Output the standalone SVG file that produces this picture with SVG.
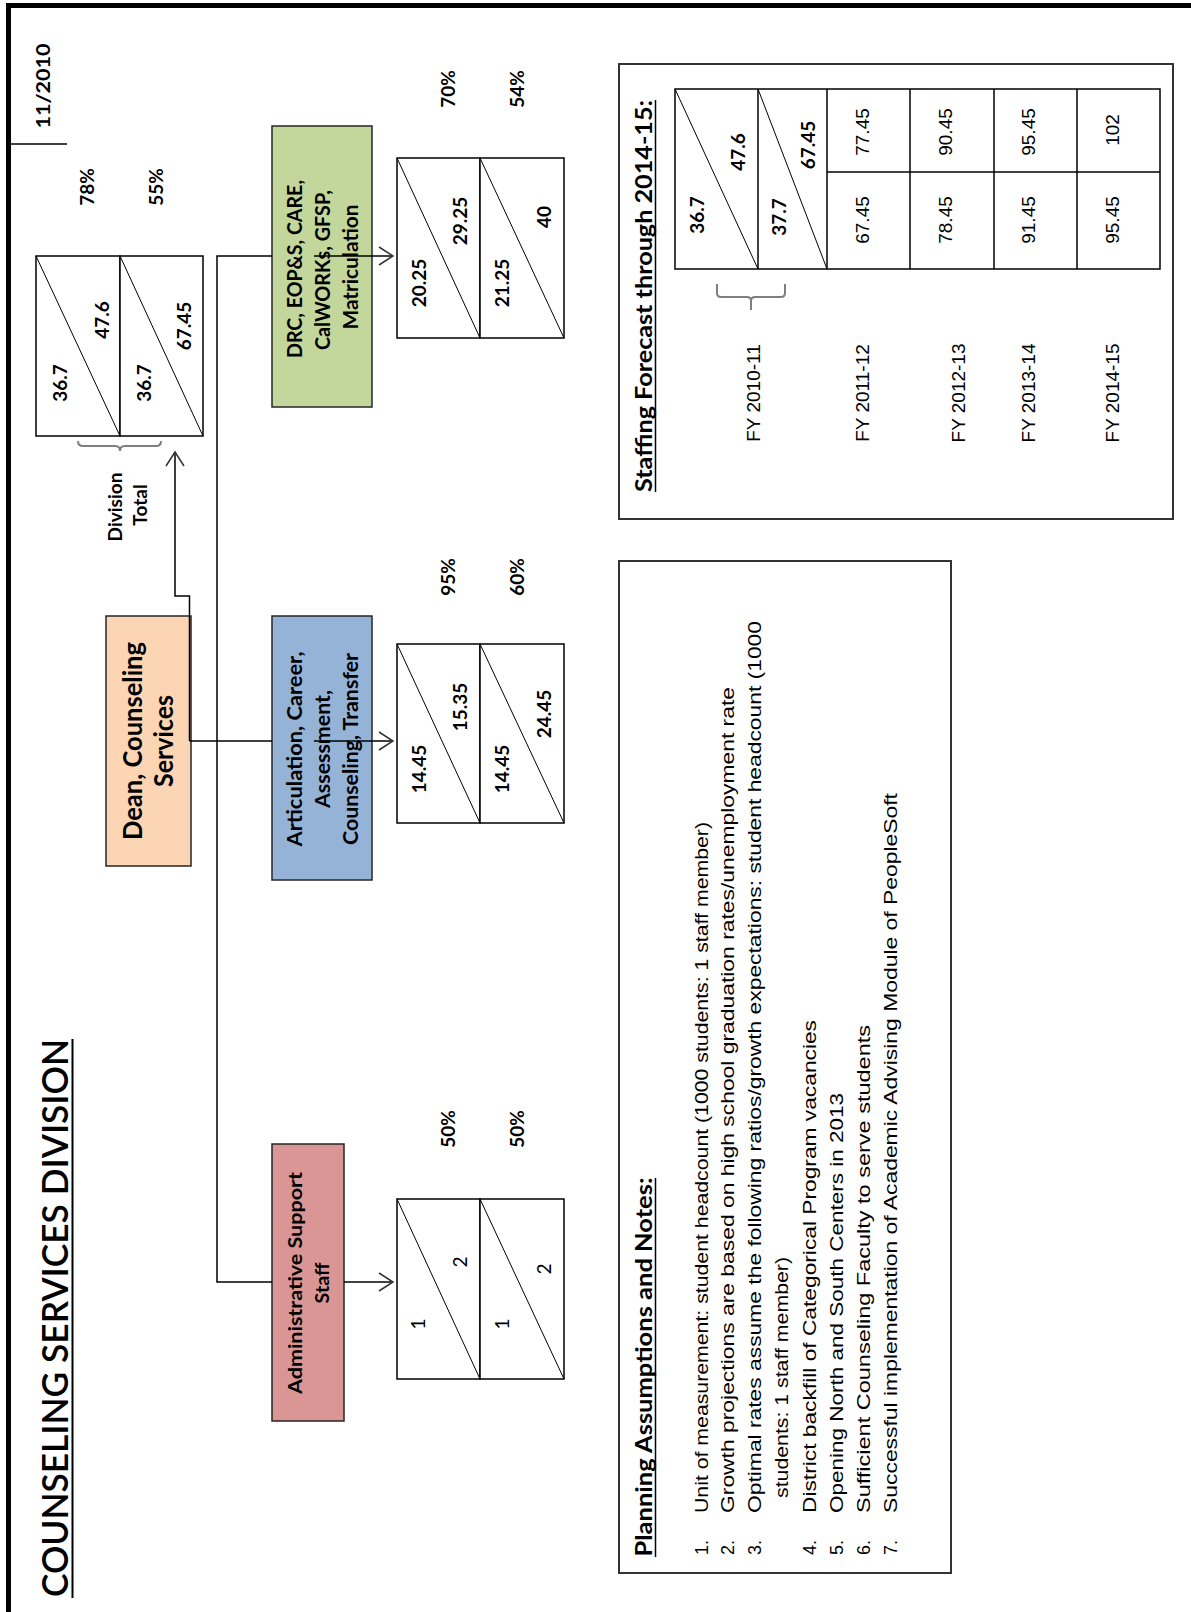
<svg xmlns="http://www.w3.org/2000/svg" width="1191" height="1612" viewBox="0 0 1191 1612">
  <style>
    .bar{fill:#000}
    .cell{fill:#fff;stroke:#000;stroke-width:1.5}
    .diag{stroke:#000;stroke-width:1;fill:none}
    .node{stroke:#262626;stroke-width:1.5}
    .panel{fill:#fff;stroke:#333;stroke-width:2}
    .conn{fill:none;stroke:#000;stroke-width:1.5}
    .brace{fill:none;stroke:#7f7f7f;stroke-width:2}
    .ul{stroke:#000;stroke-width:1.5}
    .b{font-family:Lato,"Liberation Sans",sans-serif;font-weight:700;fill:#000}
    .t{font-family:Lato,"Liberation Sans",sans-serif;font-weight:400;fill:#000}
    .r{font-family:"Liberation Sans",Arial,sans-serif;font-weight:400;fill:#000}
    .num{font-size:19px}
    .pct{font-size:19px}
    .lbl{font-size:21px}
    .note{font-size:18px}
  </style>
  <defs>
    <marker id="arrow" viewBox="-16 -11 18 22" markerWidth="18" markerHeight="22" refX="0" refY="0" orient="auto" markerUnits="userSpaceOnUse">
      <path d="M-14,-9 L0,0 L-14,9" fill="none" stroke="#333" stroke-width="1.5"/>
    </marker>
  </defs>

  <rect width="1191" height="1612" fill="#fff"/>

  <!-- page frame: heavy top and left rules -->
  <g id="frame">
    <rect class="bar" x="6" y="3" width="1185" height="5"/>
    <rect class="bar" x="6" y="3" width="5" height="1609"/>
    <line class="ul" x1="11" y1="144" x2="67" y2="144"/>
  </g>

  <g id="title">
    <text class="t" font-size="36" font-weight="600" transform="translate(68,1318) rotate(-90)" text-anchor="middle" textLength="558" lengthAdjust="spacingAndGlyphs" style="font-weight:600">COUNSELING SERVICES DIVISION</text>
    <line x1="72.5" y1="1039" x2="72.5" y2="1598" stroke="#000" stroke-width="2"/>
  </g>

  <g id="date">
    <text class="b" font-size="19" transform="translate(50,86) rotate(-90)" text-anchor="middle" textLength="85" lengthAdjust="spacingAndGlyphs">11/2010</text>
  </g>

  <!-- org nodes -->
  <g id="node-dean">
    <rect class="node" x="106" y="616" width="85" height="250" fill="#fcd5b4"/>
    <text class="b" font-size="26" transform="translate(142,741) rotate(-90)" text-anchor="middle" textLength="198" lengthAdjust="spacingAndGlyphs">Dean, Counseling</text>
    <text class="b" font-size="26" transform="translate(173,741) rotate(-90)" text-anchor="middle" textLength="92" lengthAdjust="spacingAndGlyphs">Services</text>
  </g>

  <g id="node-drc">
    <rect class="node" x="272" y="126" width="100" height="281" fill="#c3d69b"/>
    <text class="b lbl" transform="translate(302,269) rotate(-90)" text-anchor="middle" textLength="178" lengthAdjust="spacingAndGlyphs">DRC, EOP&amp;S, CARE,</text>
    <text class="b lbl" transform="translate(330,270) rotate(-90)" text-anchor="middle" textLength="160" lengthAdjust="spacingAndGlyphs">CalWORKs, GFSP,</text>
    <text class="b lbl" transform="translate(358,267) rotate(-90)" text-anchor="middle" textLength="125" lengthAdjust="spacingAndGlyphs">Matriculation</text>
  </g>

  <g id="node-acat">
    <rect class="node" x="272" y="616" width="100" height="264" fill="#95b3d7"/>
    <text class="b lbl" transform="translate(302,749) rotate(-90)" text-anchor="middle" textLength="195" lengthAdjust="spacingAndGlyphs">Articulation, Career,</text>
    <text class="b lbl" transform="translate(330,749) rotate(-90)" text-anchor="middle" textLength="118" lengthAdjust="spacingAndGlyphs">Assessment,</text>
    <text class="b lbl" transform="translate(358,749) rotate(-90)" text-anchor="middle" textLength="192" lengthAdjust="spacingAndGlyphs">Counseling, Transfer</text>
  </g>

  <g id="node-admin">
    <rect class="node" x="272" y="1144" width="72" height="277" fill="#da9694"/>
    <text class="b" font-size="19" transform="translate(302,1283) rotate(-90)" text-anchor="middle" textLength="222" lengthAdjust="spacingAndGlyphs">Administrative Support</text>
    <text class="b" font-size="19" transform="translate(329,1283) rotate(-90)" text-anchor="middle" textLength="41" lengthAdjust="spacingAndGlyphs">Staff</text>
  </g>

  <!-- staffing boxes: current / optimal -->
  <g id="data-total">
    <rect class="cell" x="36" y="256" width="84" height="180"/>
    <rect class="cell" x="120" y="256" width="83" height="180"/>
    <line class="diag" x1="36" y1="256" x2="120" y2="436"/>
    <line class="diag" x1="120" y1="256" x2="203" y2="436"/>
    <text class="b num" transform="translate(67,383) rotate(-90)" text-anchor="middle">36.7</text>
    <text class="b num" transform="translate(109,320) rotate(-90)" text-anchor="middle">47.6</text>
    <text class="b num" transform="translate(151,383) rotate(-90)" text-anchor="middle">36.7</text>
    <text class="b num" transform="translate(191,326) rotate(-90)" text-anchor="middle">67.45</text>
    <text class="b pct" transform="translate(94,187) rotate(-90)" text-anchor="middle">78%</text>
    <text class="b pct" transform="translate(163,187) rotate(-90)" text-anchor="middle">55%</text>
    <path class="brace" d="M78,441 Q78,446 83,446 L115,446 Q120,446 120,451 Q120,446 125,446 L156,446 Q161,446 161,441"/>
    <text class="b" font-size="19" transform="translate(122,507) rotate(-90)" text-anchor="middle">Division</text>
    <text class="b" font-size="19" transform="translate(147,505) rotate(-90)" text-anchor="middle">Total</text>
  </g>

  <g id="data-drc">
    <rect class="cell" x="397" y="158" width="83" height="180"/>
    <rect class="cell" x="480" y="158" width="84" height="180"/>
    <line class="diag" x1="397" y1="158" x2="480" y2="338"/>
    <line class="diag" x1="480" y1="158" x2="564" y2="338"/>
    <text class="b num" transform="translate(426,283) rotate(-90)" text-anchor="middle">20.25</text>
    <text class="b num" transform="translate(467,221) rotate(-90)" text-anchor="middle">29.25</text>
    <text class="b num" transform="translate(509,283) rotate(-90)" text-anchor="middle">21.25</text>
    <text class="b num" transform="translate(551,217) rotate(-90)" text-anchor="middle">40</text>
    <text class="b pct" transform="translate(455,89) rotate(-90)" text-anchor="middle">70%</text>
    <text class="b pct" transform="translate(524,89) rotate(-90)" text-anchor="middle">54%</text>
  </g>

  <g id="data-acat">
    <rect class="cell" x="397" y="644" width="83" height="179"/>
    <rect class="cell" x="480" y="644" width="84" height="179"/>
    <line class="diag" x1="397" y1="644" x2="480" y2="823"/>
    <line class="diag" x1="480" y1="644" x2="564" y2="823"/>
    <text class="b num" transform="translate(426,769) rotate(-90)" text-anchor="middle">14.45</text>
    <text class="b num" transform="translate(467,707) rotate(-90)" text-anchor="middle">15.35</text>
    <text class="b num" transform="translate(509,769) rotate(-90)" text-anchor="middle">14.45</text>
    <text class="b num" transform="translate(551,714) rotate(-90)" text-anchor="middle">24.45</text>
    <text class="b pct" transform="translate(455,577) rotate(-90)" text-anchor="middle">95%</text>
    <text class="b pct" transform="translate(524,577) rotate(-90)" text-anchor="middle">60%</text>
  </g>

  <g id="data-admin">
    <rect class="cell" x="397" y="1199" width="83" height="180"/>
    <rect class="cell" x="480" y="1199" width="84" height="180"/>
    <line class="diag" x1="397" y1="1199" x2="480" y2="1379"/>
    <line class="diag" x1="480" y1="1199" x2="564" y2="1379"/>
    <text class="t num" transform="translate(425,1324) rotate(-90)" text-anchor="middle">1</text>
    <text class="t num" transform="translate(467,1262) rotate(-90)" text-anchor="middle">2</text>
    <text class="t num" transform="translate(509,1324) rotate(-90)" text-anchor="middle">1</text>
    <text class="t num" transform="translate(551,1269) rotate(-90)" text-anchor="middle">2</text>
    <text class="b pct" transform="translate(455,1129) rotate(-90)" text-anchor="middle">50%</text>
    <text class="b pct" transform="translate(524,1129) rotate(-90)" text-anchor="middle">50%</text>
  </g>

  <!-- connectors -->
  <g id="connectors">
    <path class="conn" d="M272,256 L217,256 L217,1282 L272,1282"/>
    <path class="conn" d="M189.5,741 L272,741"/>
    <path class="conn" d="M189.5,741 L189.5,596 L175,596 L175,452" marker-end="url(#arrow)"/>
    <path class="conn" d="M314,256 L393,256" marker-end="url(#arrow)"/>
    <path class="conn" d="M314,741 L393,741" marker-end="url(#arrow)"/>
    <path class="conn" d="M344,1282 L393,1282" marker-end="url(#arrow)"/>
  </g>

  <!-- five-year forecast table -->
  <g id="staffing-forecast">
    <rect class="panel" x="619" y="64" width="554" height="455"/>
    <text class="b" font-size="22" transform="translate(652,296) rotate(-90)" text-anchor="middle" textLength="392" lengthAdjust="spacingAndGlyphs">Staffing Forecast through 2014-15:</text>
    <line class="ul" x1="655.5" y1="492" x2="655.5" y2="100"/>
    <rect class="cell" x="675" y="89" width="485" height="180"/>
    <line class="ul" x1="758" y1="89" x2="758" y2="269"/>
    <line class="ul" x1="827" y1="89" x2="827" y2="269"/>
    <line class="ul" x1="910" y1="89" x2="910" y2="269"/>
    <line class="ul" x1="994" y1="89" x2="994" y2="269"/>
    <line class="ul" x1="1077" y1="89" x2="1077" y2="269"/>
    <line class="ul" x1="827" y1="172" x2="1160" y2="172"/>
    <line class="diag" x1="675" y1="89" x2="758" y2="269"/>
    <line class="diag" x1="758" y1="89" x2="827" y2="269"/>
    <text class="b num" transform="translate(704,215) rotate(-90)" text-anchor="middle">36.7</text>
    <text class="b num" transform="translate(745,152) rotate(-90)" text-anchor="middle">47.6</text>
    <text class="b num" transform="translate(786,217) rotate(-90)" text-anchor="middle">37.7</text>
    <text class="b num" transform="translate(815,145) rotate(-90)" text-anchor="middle">67.45</text>
    <text class="r num" transform="translate(869,132) rotate(-90)" text-anchor="middle">77.45</text>
    <text class="r num" transform="translate(869,220) rotate(-90)" text-anchor="middle">67.45</text>
    <text class="r num" transform="translate(952,132) rotate(-90)" text-anchor="middle">90.45</text>
    <text class="r num" transform="translate(952,220) rotate(-90)" text-anchor="middle">78.45</text>
    <text class="r num" transform="translate(1035,132) rotate(-90)" text-anchor="middle">95.45</text>
    <text class="r num" transform="translate(1035,220) rotate(-90)" text-anchor="middle">91.45</text>
    <text class="r num" transform="translate(1119,130) rotate(-90)" text-anchor="middle">102</text>
    <text class="r num" transform="translate(1119,220) rotate(-90)" text-anchor="middle">95.45</text>
    <path class="brace" d="M717,284 L717,293 Q717,297 721,297 L747,297 Q751,297 751,301 L751,310 M751,301 Q751,297 755,297 L781,297 Q785,297 785,293 L785,284"/>
    <text class="r num" transform="translate(760,393) rotate(-90)" text-anchor="middle">FY 2010-11</text>
    <text class="r num" transform="translate(869,393) rotate(-90)" text-anchor="middle">FY 2011-12</text>
    <text class="r num" transform="translate(965,393) rotate(-90)" text-anchor="middle">FY 2012-13</text>
    <text class="r num" transform="translate(1035,393) rotate(-90)" text-anchor="middle">FY 2013-14</text>
    <text class="r num" transform="translate(1119,393) rotate(-90)" text-anchor="middle">FY 2014-15</text>
  </g>

  <!-- planning notes -->
  <g id="planning-notes">
    <rect class="panel" x="619" y="561" width="332" height="1012"/>
    <text class="b" font-size="22" transform="translate(652,1367) rotate(-90)" text-anchor="middle" textLength="379" lengthAdjust="spacingAndGlyphs">Planning Assumptions and Notes:</text>
    <line class="ul" x1="655.5" y1="1557" x2="655.5" y2="1178"/>
    <g class="r note">
      <text transform="translate(708,1555) rotate(-90)">1.</text>
      <text transform="translate(734,1555) rotate(-90)">2.</text>
      <text transform="translate(761,1555) rotate(-90)">3.</text>
      <text transform="translate(816,1555) rotate(-90)">4.</text>
      <text transform="translate(843,1555) rotate(-90)">5.</text>
      <text transform="translate(870,1555) rotate(-90)">6.</text>
      <text transform="translate(897,1555) rotate(-90)">7.</text>
      <text transform="translate(708,1513) rotate(-90)" textLength="691" lengthAdjust="spacingAndGlyphs">Unit of measurement: student headcount (1000 students: 1 staff member)</text>
      <text transform="translate(734,1513) rotate(-90)" textLength="826" lengthAdjust="spacingAndGlyphs">Growth projections are based on high school graduation rates/unemployment rate</text>
      <text transform="translate(761,1513) rotate(-90)" textLength="892" lengthAdjust="spacingAndGlyphs">Optimal rates assume the following ratios/growth expectations: student headcount (1000</text>
      <text transform="translate(788,1498) rotate(-90)" textLength="241" lengthAdjust="spacingAndGlyphs">students: 1 staff member)</text>
      <text transform="translate(816,1513) rotate(-90)" textLength="493" lengthAdjust="spacingAndGlyphs">District backfill of Categorical Program vacancies</text>
      <text transform="translate(843,1513) rotate(-90)" textLength="420" lengthAdjust="spacingAndGlyphs">Opening North and South Centers in 2013</text>
      <text transform="translate(870,1513) rotate(-90)" textLength="488" lengthAdjust="spacingAndGlyphs">Sufficient Counseling Faculty to serve students</text>
      <text transform="translate(897,1513) rotate(-90)" textLength="720" lengthAdjust="spacingAndGlyphs">Successful implementation of Academic Advising Module of PeopleSoft</text>
    </g>
  </g>
</svg>
